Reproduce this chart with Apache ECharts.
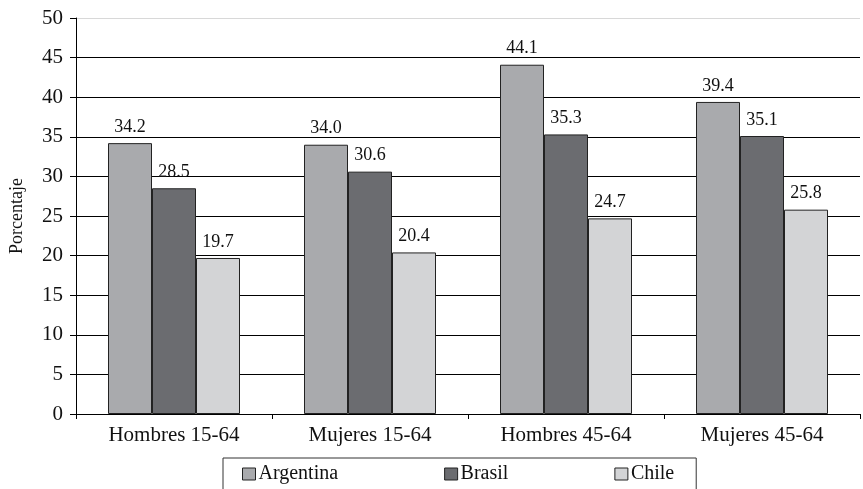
<!DOCTYPE html>
<html>
<head>
<meta charset="utf-8">
<script src="https://cdn.jsdelivr.net/npm/echarts@6/dist/echarts.min.js"></script>
<style>
html,body{margin:0;padding:0;background:#fff;}
#chart{width:863px;height:489px;}
</style>
</head>
<body>
<div id="chart"></div>
<script>
const categories = ['Hombres 15-64', 'Mujeres 15-64', 'Hombres 45-64', 'Mujeres 45-64'];
const seriesNames = ['Argentina', 'Brasil', 'Chile'];
const argentina = [34.2, 34.0, 44.1, 39.4];
const brasil = [28.5, 30.6, 35.3, 35.1];
const chile = [19.7, 20.4, 24.7, 25.8];
const yTicks = [0, 5, 10, 15, 20, 25, 30, 35, 40, 45, 50];

const colors = ['#a9aaad', '#6b6c70', '#d3d4d6'];
const font = "'Liberation Serif', 'Times New Roman', serif";
const values = [argentina, brasil, chile];

const chart = echarts.init(document.getElementById('chart'), null, {renderer: 'canvas'});
const splitColors = yTicks.map((t, i) => i === yTicks.length - 1 ? '#d8d8d8' : '#000');

chart.setOption({
  animation: false,
  backgroundColor: '#fff',
  textStyle: {fontFamily: font, color: '#111'},
  grid: {left: 76, top: 18, width: 784, height: 396, containLabel: false},
  xAxis: {
    type: 'category',
    data: categories,
    axisLine: {lineStyle: {color: '#000', width: 1}},
    axisTick: {show: true, length: 5, lineStyle: {color: '#000'}},
    axisLabel: {fontFamily: font, fontSize: 21, color: '#111', margin: 11}
  },
  yAxis: {
    type: 'value',
    min: yTicks[0],
    max: yTicks[yTicks.length - 1],
    interval: 5,
    name: 'Porcentaje',
    nameLocation: 'middle',
    nameGap: 50,
    nameTextStyle: {fontFamily: font, fontSize: 18, color: '#111'},
    axisLine: {show: true, lineStyle: {color: '#000', width: 1}},
    axisTick: {show: true, length: 6, lineStyle: {color: '#000'}},
    axisLabel: {fontFamily: font, fontSize: 21, color: '#111', margin: 13},
    splitLine: {show: true, lineStyle: {color: splitColors, width: 1}}
  },
  legend: {
    left: 223,
    top: 458,
    padding: [6, 22, 22, 19],
    borderColor: '#333',
    borderWidth: 1,
    itemGap: 106,
    itemWidth: 13,
    itemHeight: 12,
    itemStyle: {borderColor: '#222', borderWidth: 1},
    textStyle: {fontFamily: font, fontSize: 20, color: '#111', padding: [0, 0, 0, -2]},
    data: seriesNames.map(n => ({name: n, icon: 'rect'}))
  },
  series: seriesNames.map((name, i) => ({
    name: name,
    type: 'bar',
    data: values[i],
    barWidth: 44,
    barGap: '0%',
    itemStyle: {color: colors[i], borderColor: '#222', borderWidth: 1},
    label: {
      show: true,
      position: 'top',
      distance: 7,
      fontFamily: font,
      fontSize: 18,
      color: '#111',
      formatter: p => p.value.toFixed(1)
    }
  }))
});
</script>
</body>
</html>
